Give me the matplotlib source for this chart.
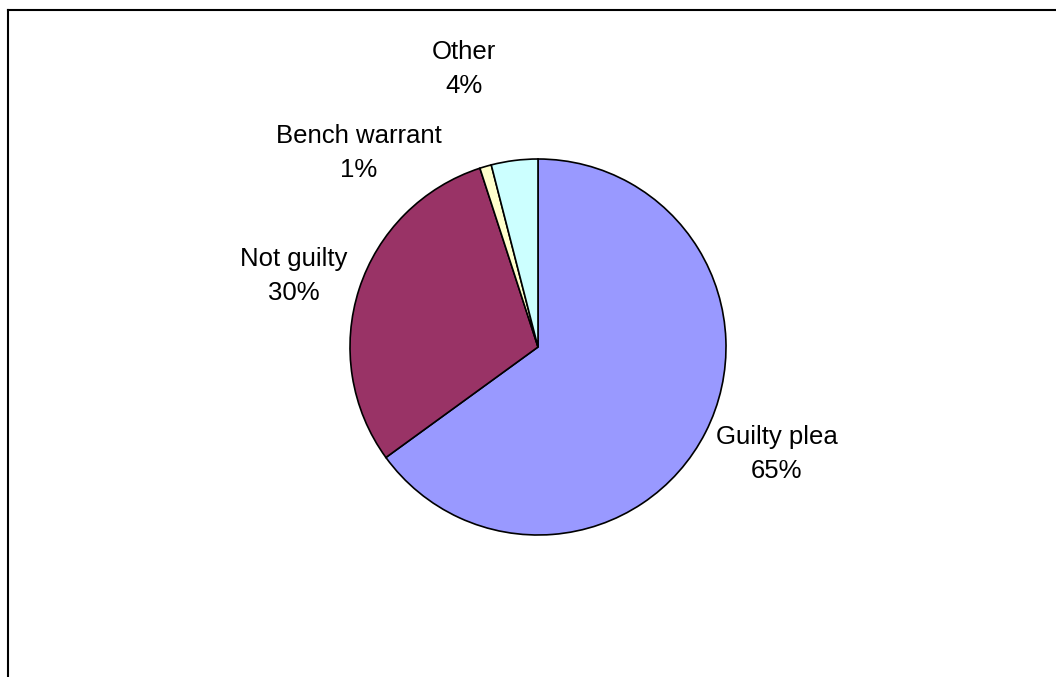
import matplotlib.pyplot as plt
from matplotlib.lines import Line2D

categories = ["Guilty plea", "Not guilty", "Bench warrant", "Other"]
shares = [65, 30, 1, 4]
colors = ["#9999FF", "#993366", "#FFFFCC", "#CCFFFF"]

W, H = 1056, 677

plt.rcParams["font.family"] = ["Liberation Sans", "DejaVu Sans"]

fig = plt.figure(figsize=(W / 100, H / 100), dpi=100)
ax = fig.add_axes([0, 0, 1, 1])

ax.pie(
    shares,
    colors=colors,
    startangle=90,
    counterclock=False,
    center=(538, H - 347),
    radius=188,
    wedgeprops=dict(edgecolor="black", linewidth=1.2),
    frame=True,
)
ax.set_xlim(0, W)
ax.set_ylim(0, H)
ax.set_aspect("equal")
ax.axis("off")

# label anchors (pixel positions, origin top-left)
label_pos = [(777, 454), (294, 276), (359, 153), (464, 69)]
for name, val, (x, y) in zip(categories, shares, label_pos):
    ax.text(x, H - y, f"{name}\n{val}%", ha="center", va="center",
            fontsize=18.5, linespacing=1.5)

# chart area border (runs past the right and bottom edges)
fig.add_artist(Line2D([8 / W, 1], [1 - 10 / H, 1 - 10 / H], color="black", lw=1.5))
fig.add_artist(Line2D([8 / W, 8 / W], [0, 1 - 10 / H], color="black", lw=1.5))

fig.savefig("out.png", dpi=100, facecolor="white")
